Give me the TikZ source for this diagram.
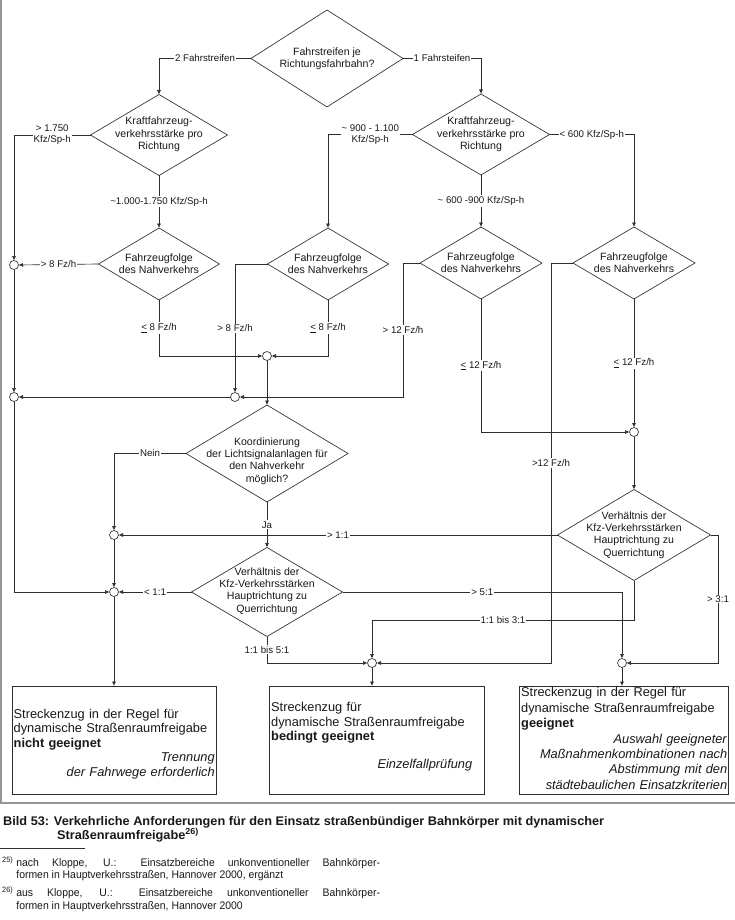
\documentclass[tikz,border=0pt]{standalone}
\usepackage{fontspec}
\setmainfont{Liberation Sans}
\usepackage{graphicx}
\usetikzlibrary{shapes.geometric,arrows.meta,calc}

\definecolor{lncol}{RGB}{45,45,45}
\definecolor{txtcol}{RGB}{25,25,25}
\definecolor{framecol}{RGB}{150,150,150}

\tikzset{
  dia/.style={diamond, draw=lncol, line width=0.65pt, inner sep=0pt, outer sep=0pt},
  dtext/.style={font=\fontsize{10.6}{12.4}\selectfont, align=center, inner sep=0pt, text=txtcol},
  jn/.style={circle, draw=lncol, line width=0.65pt, minimum size=9pt, inner sep=0pt, outer sep=0pt, fill=white},
  arr/.style={draw=lncol, line width=0.65pt, -{Latex[length=4.5pt,width=4pt]}},
  lbl/.style={font=\fontsize{9.7}{11}\selectfont, fill=white, inner sep=1pt, align=center, text=txtcol},
  box/.style={draw=lncol, line width=0.7pt, inner sep=0pt, outer sep=0pt},
  btext/.style={font=\fontsize{12.8}{14.5}\selectfont, inner sep=0pt, align=left, text=txtcol, anchor=north west},
}

\newlength\capw

\begin{document}
\settowidth\capw{\fontsize{12.5}{14}\selectfont\bfseries Bild 53: Verkehrliche Anforderungen für den Einsatz straßenbündiger Bahnkörper mit dynamischer}%
\pgfmathsetmacro\capsc{601/\capw}%
\begin{tikzpicture}[x=1pt,y=-1pt]
\fill[white] (0,0) rectangle (735,920);
\useasboundingbox (0,0) rectangle (735,920);

% frame
\draw[framecol, line width=1.2pt] (1,0) -- (1,803) -- (735,803);

% diamonds
\node[dia, minimum width=152pt, minimum height=97pt] (D0) at (327,58.5) {};
\node[dtext] (D0t) at (327,59) {Fahrstreifen je\\Richtungsfahrbahn?};

\node[dia, minimum width=137pt, minimum height=81pt] (D1) at (159,135) {};
\node[dtext] (D1t) at (159,134.5) {Kraftfahrzeug-\\verkehrsstärke pro\\Richtung};

\node[dia, minimum width=137pt, minimum height=81pt] (D2) at (481,134.5) {};
\node[dtext] (D2t) at (481,134.5) {Kraftfahrzeug-\\verkehrsstärke pro\\Richtung};

\node[dia, minimum width=121pt, minimum height=72pt] (D3) at (159,264) {};
\node[dtext] (D3t) at (159,264) {Fahrzeugfolge\\des Nahverkehrs};

\node[dia, minimum width=121pt, minimum height=72pt] (D4) at (328,264) {};
\node[dtext] (D4t) at (328,264) {Fahrzeugfolge\\des Nahverkehrs};

\node[dia, minimum width=122pt, minimum height=72pt] (D6) at (481,263) {};
\node[dtext] (D6t) at (481,263) {Fahrzeugfolge\\des Nahverkehrs};

\node[dia, minimum width=122pt, minimum height=72pt] (D9) at (634,263) {};
\node[dtext] (D9t) at (634,263) {Fahrzeugfolge\\des Nahverkehrs};

\node[dia, minimum width=162pt, minimum height=97pt] (D5) at (267,453.5) {};
\node[dtext] (D5t) at (267,461) {Koordinierung\\der Lichtsignalanlagen für\\den Nahverkehr\\möglich?};

\node[dia, minimum width=151pt, minimum height=89pt] (D7) at (267,592) {};
\node[dtext] (D7t) at (267,591) {Verhältnis der\\Kfz-Verkehrsstärken\\Hauptrichtung zu\\Querrichtung};

\node[dia, minimum width=153pt, minimum height=91pt] (D8) at (634,535) {};
\node[dtext] (D8t) at (634,535) {Verhältnis der\\Kfz-Verkehrsstärken\\Hauptrichtung zu\\Querrichtung};

% junctions
\node[jn] (J1) at (14,265) {};
\node[jn] (J4) at (14,397) {};
\node[jn] (J2) at (267,356) {};
\node[jn] (J3) at (235,397) {};
\node[jn] (J5) at (114,535) {};
\node[jn] (J6) at (114,592) {};
\node[jn] (J7) at (634,432) {};
\node[jn] (J8) at (372,663) {};
\node[jn] (J9) at (622,663) {};

% boxes
\node[box, minimum width=204pt, minimum height=108pt, anchor=north west] (B1) at (12,686) {};
\node[box, minimum width=215pt, minimum height=108pt, anchor=north west] (B2) at (269,686) {};
\node[box, minimum width=209pt, minimum height=108pt, anchor=north west] (B3) at (519,686) {};

\node[btext, text width=201pt] (B1t) at (13.5,709) {Streckenzug in der Regel für\\dynamische Straßenraumfreigabe\\\textbf{nicht geeignet}\\\hspace*{0pt plus 1filll}\textit{Trennung}\\\hspace*{0pt plus 1filll}\textit{der Fahrwege erforderlich}};
\node[btext, text width=201pt] (B2t) at (271,702.5) {Streckenzug für\\dynamische Straßenraumfreigabe\\\textbf{bedingt geeignet}\\[13.5pt]\hspace*{0pt plus 1filll}\textit{Einzelfallprüfung}};
\node[btext, text width=206pt, font=\fontsize{12.8}{15.4}\selectfont] (B3t) at (521,687.5) {Streckenzug in der Regel für\\dynamische Straßenraumfreigabe\\\textbf{geeignet}\\\hspace*{0pt plus 1filll}\textit{Auswahl geeigneter}\\\hspace*{0pt plus 1filll}\textit{Maßnahmenkombinationen nach}\\\hspace*{0pt plus 1filll}\textit{Abstimmung mit den}\\\hspace*{0pt plus 1filll}\textit{städtebaulichen Einsatzkriterien}};

% connectors
\draw[arr] (D0.west) -| node[lbl,pos=0.25]{2 Fahrstreifen} (D1.north);
\draw[arr] (D0.east) -| node[lbl,pos=0.25]{1 Fahrsteifen} (D2.north);
\draw[arr] (D1.west) -| node[lbl,pos=0.25]{> 1.750\\Kfz/Sp-h} (J1.north);
\draw[arr] (D1.south) -- node[lbl]{\textasciitilde1.000-1.750 Kfz/Sp-h} (D3.north);
\draw[arr] (D2.west) -| node[lbl,pos=0.25]{\textasciitilde{} 900 - 1.100\\Kfz/Sp-h} (D4.north);
\draw[arr] (D2.south) -- node[lbl]{\textasciitilde{} 600 -900 Kfz/Sp-h} (D6.north);
\draw[arr] (D2.east) -| node[lbl,pos=0.25]{< 600 Kfz/Sp-h} (D9.north);
\draw[arr] (D3.west) -- node[lbl]{> 8 Fz/h} (J1.east);
\draw[arr] (D3.south) |- node[lbl,pos=0.25]{\underline{<} 8 Fz/h} (J2.west);
\draw[arr] (D4.west) -| node[lbl,pos=0.75]{> 8 Fz/h} (J3.north);
\draw[arr] (D4.south) |- node[lbl,pos=0.25]{\underline{<} 8 Fz/h} (J2.east);
\draw[arr] (J2.south) -- (D5.north);
\draw[arr] (D6.west) -| node[lbl,pos=0.75]{> 12 Fz/h} (403,397) -- (J3.east);
\draw[arr] (J3.west) -- (J4.east);
\draw[arr] (J1.south) -- (J4.north);
\draw[arr] (J4.south) |- (J6.west);
\draw[arr] (D5.west) -| node[lbl,pos=0.25]{Nein} (J5.north);
\draw[arr] (D5.south) -- node[lbl]{Ja} (D7.north);
\draw[arr] (J5.south) -- (J6.north);
\draw[arr] (D8.west) -- node[lbl]{> 1:1} (J5.east);
\draw[arr] (D7.west) -- node[lbl]{< 1:1} (J6.east);
\draw[arr] (J6.south) -- (J6 |- B1.north);
\draw[arr] (D7.east) -| node[lbl,pos=0.25]{> 5:1} (J9.north);
\draw[arr] (D7.south) |- node[lbl,pos=0.25]{1:1 bis 5:1} (J8.west);
\draw[arr] (D6.south) |- node[lbl,pos=0.25]{\underline{<} 12 Fz/h} (J7.west);
\draw[arr] (D9.south) -- node[lbl]{\underline{<} 12 Fz/h} (J7.north);
\draw[arr] (J7.south) -- (D8.north);
\draw[arr] (D9.west) -| node[lbl,pos=0.75]{>12 Fz/h} (551,663) -- (J8.east);
\draw[arr] (D8.east) -| node[lbl,pos=0.75]{> 3:1} (718,663) -- (J9.east);
\draw[arr] (D8.south) |- node[lbl,pos=0.75]{1:1 bis 3:1} (372,620) -- (J8.north);
\draw[arr] (J8.south) -- (J8 |- B2.north);
\draw[arr] (J9.south) -- (J9 |- B3.north);

% caption
\node[anchor=base west, inner sep=0pt, text=txtcol] (cap1) at (3,825) {\scalebox{\capsc}[1]{\fontsize{12.5}{14}\selectfont\bfseries Bild 53: Verkehrliche Anforderungen für den Einsatz straßenbündiger Bahnkörper mit dynamischer}};
\node[anchor=base west, inner sep=0pt, text=txtcol] (cap2) at (57,839) {\scalebox{\capsc}[1]{\fontsize{12.5}{14}\selectfont\bfseries Straßenraumfreigabe\textsuperscript{26)}}};

% footnotes
\draw[lncol, line width=0.5pt] (0,848) -- (85,848);
\node[anchor=base west, inner sep=0pt, text=txtcol] (f25a) at (2,866) {\scalebox{0.947}[1]{\fontsize{11}{13}\selectfont\makebox[15pt][l]{\textsuperscript{25)}}\makebox[384pt][s]{nach Kloppe, U.: Einsatzbereiche unkonventioneller Bahnkörper-}}};
\node[anchor=base west, inner sep=0pt, text=txtcol] (f25b) at (16.2,878.5) {\scalebox{0.947}[1]{\fontsize{11}{13}\selectfont formen in Hauptverkehrsstraßen, Hannover 2000, ergänzt}};
\node[anchor=base west, inner sep=0pt, text=txtcol] (f26a) at (2,896.5) {\scalebox{0.947}[1]{\fontsize{11}{13}\selectfont\makebox[15pt][l]{\textsuperscript{26)}}\makebox[384pt][s]{aus Kloppe, U.: Einsatzbereiche unkonventioneller Bahnkörper-}}};
\node[anchor=base west, inner sep=0pt, text=txtcol] (f26b) at (16.2,909) {\scalebox{0.947}[1]{\fontsize{11}{13}\selectfont formen in Hauptverkehrsstraßen, Hannover 2000}};
\end{tikzpicture}
\end{document}
